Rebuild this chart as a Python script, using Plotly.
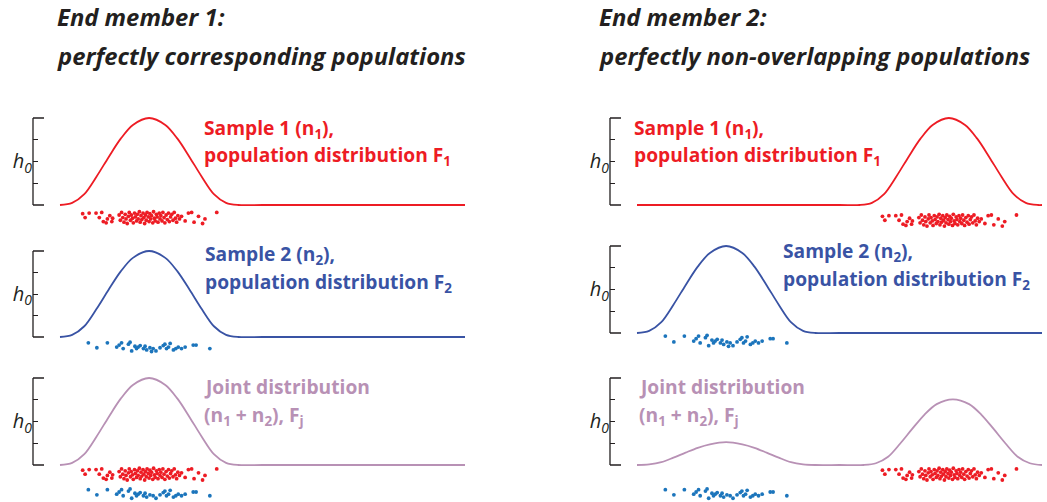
import plotly.graph_objects as go

# ---------------- data ----------------
# x: position along the measured variable (0..100), y: density in tick units (h0 = 2)
bump_left_x = [0, 3, 6, 9, 12, 15, 18, 22, 26, 29, 32, 35, 38, 41, 44, 50, 75, 100]
F1_left = [0, 0.1, 0.5, 1.3, 2.2, 3.05, 3.68, 4.0, 3.68, 3.05, 2.2, 1.3, 0.5, 0.1, 0, 0, 0, 0]
F2_left = [0, 0.1, 0.5, 1.3, 2.2, 3.05, 3.68, 4.0, 3.68, 3.05, 2.2, 1.3, 0.5, 0.1, 0, 0, 0, 0]
Fj_left = [0, 0.1, 0.5, 1.3, 2.2, 3.05, 3.68, 4.0, 3.68, 3.05, 2.2, 1.3, 0.5, 0.1, 0, 0, 0, 0]

F1_right_x = [0, 25, 50, 55, 58, 61, 64, 67, 70, 73, 77, 81, 84, 87, 90, 93, 96, 99, 100]
F1_right = [0, 0, 0, 0, 0.1, 0.5, 1.3, 2.2, 3.05, 3.68, 4.0, 3.68, 3.05, 2.2, 1.3, 0.5, 0.1, 0, 0]

F2_right_x = [0, 3, 6, 9, 12, 15, 18, 22, 26, 29, 32, 35, 38, 41, 44, 50, 75, 100]
F2_right = [0, 0.1, 0.5, 1.3, 2.2, 3.05, 3.68, 4.0, 3.68, 3.05, 2.2, 1.3, 0.5, 0.1, 0, 0, 0, 0]

Fj_right_x = [0, 3, 6, 9, 12, 15, 18, 22, 26, 29, 32, 35, 38, 41, 44, 50, 56, 59, 62, 65,
              68, 71, 74, 78, 82, 85, 88, 91, 94, 97, 100]
Fj_right = [0, 0.03, 0.13, 0.34, 0.57, 0.79, 0.95, 1.05, 0.95, 0.79, 0.57, 0.34, 0.13, 0.03, 0, 0,
            0, 0.08, 0.38, 0.99, 1.67, 2.32, 2.8, 3.02, 2.8, 2.32, 1.67, 0.99, 0.38, 0.08, 0]

# sample 1 (red dots): value and vertical jitter (0 = top of strip, 1 = bottom)
sample1_x = [5.6, 6.2, 7.2, 8.9, 9.7, 10.3, 10.7, 11.4, 11.7, 12.3, 12.8, 13.0,
             14.6, 14.9, 15.2, 15.5, 15.8, 16.1, 16.3, 16.6, 16.9, 17.1, 17.4, 17.6, 17.9, 18.1,
             18.4, 18.6, 18.9, 19.1, 19.3, 19.6, 19.8, 20.0, 20.2, 20.5, 20.7, 20.9, 21.1, 21.3,
             21.5, 21.8, 22.0, 22.2, 22.4, 22.6, 22.9, 23.1, 23.3, 23.5, 23.8, 24.0, 24.2, 24.5,
             24.7, 24.9, 25.2, 25.4, 25.7, 25.9, 26.2, 26.5, 26.8, 27.0, 27.3, 27.6, 27.9, 28.2,
             28.5, 28.8, 29.1, 29.5,
             30.0, 30.9, 31.7, 32.5, 33.1, 34.2, 35.2, 35.8, 38.7]
sample1_j = [0.2, 0.5, 0.15, 0.15, 0.5, 0.1, 0.8, 0.9, 0.6, 0.35, 0.8, 0.55,
             0.3, 0.7, 0.1, 0.5, 0.85, 0.25, 0.6, 0.95, 0.4, 0.1, 0.7, 0.3, 0.55, 0.9,
             0.15, 0.45, 0.75, 0.25, 0.6, 0.05, 0.85, 0.35, 0.65, 0.15, 0.5, 0.95, 0.3, 0.7,
             0.1, 0.45, 0.8, 0.2, 0.6, 0.35, 0.9, 0.05, 0.55, 0.75, 0.25, 0.45, 0.85, 0.15,
             0.6, 0.35, 0.75, 0.1, 0.5, 0.9, 0.3, 0.65, 0.15, 0.8, 0.45, 0.25, 0.7, 0.1,
             0.55, 0.85, 0.35, 0.6,
             0.4, 0.75, 0.15, 0.1, 0.85, 0.4, 0.95, 0.6, 0.1]
sample1_shift_right = 55  # population 1 on the right is displaced along x

# sample 2 (blue dots)
sample2_x = [7.0, 9.1, 11.7, 14.0, 14.6, 15.2, 15.6, 16.9, 17.3, 17.7, 18.5, 18.9, 19.3, 19.8,
             20.6, 21.0, 21.4, 22.2, 22.6, 23.0, 23.7, 24.7, 25.5, 25.9, 26.3, 26.8, 27.2, 28.0,
             28.6, 29.2, 30.0, 30.9, 32.9, 33.6, 37.0]
sample2_j = [0.14, 0.6, 0.14, 0.54, 0.35, 0.14, 0.68, 0.27, 0.08, 0.9, 0.46, 0.68, 0.54, 0.4,
             0.68, 0.46, 0.8, 0.6, 0.95, 0.68, 0.9, 0.6, 0.4, 0.27, 0.68, 0.54, 0.2, 0.8,
             0.68, 0.54, 0.68, 0.54, 0.35, 0.35, 0.68]

# ---------------- styles ----------------
RED = "#ED1C24"
BLUE_LINE = "#3953A4"
BLUE_DOT = "#1C75BC"
JOINT = "#B891B5"
INK = "#231F20"
W, H = 1047, 502
PX_PER_UNIT = 4.05
LABEL_FONT = "Open Sans"


def fx(px):
    return px / W


def fy(py):
    return 1 - py / H


# panel geometry (pixels): axis x, curve start x, top tick y, baseline y, lower y-range
panels = [
    dict(axis=33, start=60, top=118, base=205, lo=-1.0),   # left row 1
    dict(axis=33, start=60, top=251, base=337, lo=-1.0),   # left row 2
    dict(axis=33, start=60, top=378, base=465, lo=-1.55),  # left row 3
    dict(axis=610, start=637, top=118, base=205, lo=-1.0),  # right row 1
    dict(axis=610, start=637, top=246, base=333, lo=-1.0),  # right row 2
    dict(axis=610, start=637, top=378, base=465, lo=-1.55),  # right row 3
]

fig = go.Figure()
layout = dict(width=W, height=H, margin=dict(l=0, r=0, t=0, b=0),
              paper_bgcolor="white", plot_bgcolor="rgba(0,0,0,0)", showlegend=False)
shapes = []

for i, p in enumerate(panels, start=1):
    xmin = (p["axis"] - p["start"]) / PX_PER_UNIT
    xmax = (p["axis"] + 437 - p["start"]) / PX_PER_UNIT
    unit = (p["base"] - p["top"]) / 4.0
    hi = 4.15
    bottom_px = min(p["base"] - p["lo"] * unit, H)
    top_px = p["top"] - (hi - 4) * unit
    sfx = "" if i == 1 else str(i)
    layout["xaxis" + sfx] = dict(domain=[fx(p["axis"]), fx(p["axis"] + 437)], range=[xmin, xmax],
                                 visible=False, anchor="y" + sfx, fixedrange=True)
    layout["yaxis" + sfx] = dict(domain=[fy(bottom_px), fy(top_px)], range=[p["lo"], hi],
                                 anchor="x" + sfx, showgrid=False, zeroline=False, showline=False,
                                 ticks="inside", ticklen=5, tickwidth=1.2, tickcolor=INK,
                                 tickvals=[1, 2, 3], ticktext=["", "<i>h<sub>0</sub></i>", ""],
                                 tickfont=dict(family="Open Sans", size=20, color=INK),
                                 ticklabelstandoff=0, fixedrange=True)
    # vertical axis line and long end ticks
    shapes.append(dict(type="line", xref="x" + sfx + " domain", yref="y" + sfx,
                       x0=0, x1=0, y0=0, y1=4, line=dict(color=INK, width=1.3)))
    for yv in (0, 4):
        shapes.append(dict(type="line", xref="x" + sfx, yref="y" + sfx, xsizemode="pixel",
                           xanchor=xmin, x0=-8, x1=11, y0=yv, y1=yv,
                           line=dict(color=INK, width=1.3)))


def curve(ix, xs, ys, color):
    sfx = "" if ix == 1 else str(ix)
    fig.add_trace(go.Scatter(x=xs, y=ys, mode="lines", xaxis="x" + sfx, yaxis="y" + sfx,
                             line=dict(color=color, width=1.8, shape="spline", smoothing=0.9),
                             hoverinfo="skip"))


def dots(ix, xs, js, color, top, band, shift=0):
    sfx = "" if ix == 1 else str(ix)
    fig.add_trace(go.Scatter(x=[v + shift for v in xs], y=[top - j * band for j in js],
                             mode="markers", xaxis="x" + sfx, yaxis="y" + sfx, cliponaxis=False,
                             marker=dict(color=color, size=3.8, line=dict(width=0)),
                             hoverinfo="skip"))


# left column
curve(1, bump_left_x, F1_left, RED)
dots(1, sample1_x, sample1_j, RED, -0.28, 0.6)
curve(2, bump_left_x, F2_left, BLUE_LINE)
dots(2, sample2_x, sample2_j, BLUE_DOT, -0.2, 0.5)
curve(3, bump_left_x, Fj_left, JOINT)
dots(3, sample1_x, sample1_j, RED, -0.12, 0.6)
dots(3, sample2_x, sample2_j, BLUE_DOT, -1.06, 0.52)
# right column
curve(4, F1_right_x, F1_right, RED)
dots(4, sample1_x, sample1_j, RED, -0.4, 0.6, shift=sample1_shift_right)
curve(5, F2_right_x, F2_right, BLUE_LINE)
dots(5, sample2_x, sample2_j, BLUE_DOT, -0.06, 0.58)
curve(6, Fj_right_x, Fj_right, JOINT)
dots(6, sample1_x, sample1_j, RED, -0.12, 0.6, shift=sample1_shift_right)
dots(6, sample2_x, sample2_j, BLUE_DOT, -1.06, 0.52)

# ---------------- text ----------------
annotations = []


def label(text, px, py, color, size=19.2, family=LABEL_FONT, bold=True, italic=False):
    t = text
    if bold:
        t = "<b>" + t + "</b>"
    if italic:
        t = "<i>" + t + "</i>"
    annotations.append(dict(text=t, x=fx(px), y=fy(py), xref="paper", yref="paper",
                            xanchor="left", yanchor="middle", align="left", showarrow=False,
                            borderpad=0, borderwidth=0,
                            font=dict(family=family, size=size, color=color)))


label("End member 1:", 57, 17, INK, size=23.8, italic=True)
label("perfectly corresponding populations", 57, 56, INK, size=23.8, italic=True)
label("End member 2:", 599, 17, INK, size=23.8, italic=True)
label("perfectly non-overlapping populations", 599, 56, INK, size=23.8, italic=True)

label("Sample 1 (n<sub>1</sub>),", 204, 128, RED)
label("population distribution F<sub>1</sub>", 204, 156, RED)
label("Sample 2 (n<sub>2</sub>),", 205, 254, BLUE_LINE)
label("population distribution F<sub>2</sub>", 205, 282, BLUE_LINE)
label("Joint distribution", 204, 386, JOINT)
label("(n<sub>1</sub> + n<sub>2</sub>), F<sub>j</sub>", 204, 415, JOINT)

label("Sample 1 (n<sub>1</sub>),", 634, 128, RED)
label("population distribution F<sub>1</sub>", 634, 156, RED)
label("Sample 2 (n<sub>2</sub>),", 783, 251, BLUE_LINE)
label("population distribution F<sub>2</sub>", 783, 279, BLUE_LINE)
label("Joint distribution", 639, 386, JOINT)
label("(n<sub>1</sub> + n<sub>2</sub>), F<sub>j</sub>", 639, 415, JOINT)

layout["annotations"] = annotations
layout["shapes"] = shapes
fig.update_layout(**layout)
fig.write_html("out.html", config={"displayModeBar": False})
